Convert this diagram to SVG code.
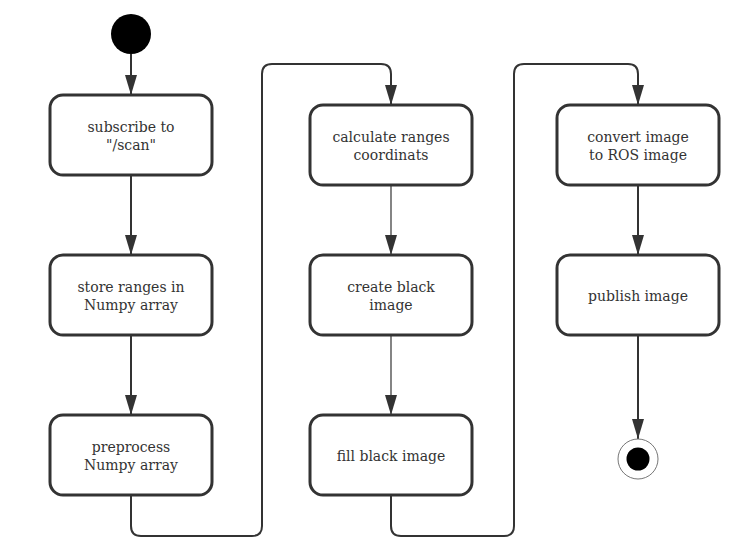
<svg xmlns="http://www.w3.org/2000/svg" width="755" height="558" viewBox="0 0 755 558">
<defs>
<marker id="arr" markerUnits="userSpaceOnUse" markerWidth="20" markerHeight="12" refX="20" refY="6" orient="auto">
<path d="M0,0 L20,6 L0,12 z" fill="#333"/>
</marker>
<style>
.box{fill:#fff;stroke:#333;stroke-width:3}
.lbl{font-family:"DejaVu Serif",serif;font-size:14px;fill:#333;text-anchor:middle}
.c{fill:none;stroke:#333;stroke-width:2}
.t{fill:none;stroke:#333;stroke-width:1.2}
</style>
</defs>
<rect width="755" height="558" fill="#fff"/>
<g id="connectors">
<path class="c" d="M131,54 V95" marker-end="url(#arr)"/>
<path class="c" d="M131,175 V255" marker-end="url(#arr)"/>
<path class="c" d="M131,335 V415" marker-end="url(#arr)"/>
<path class="c" d="M131,495 V526 Q131,536 141,536 H252 Q262,536 262,526 V74 Q262,64 272,64 H381 Q391,64 391,74 V105" marker-end="url(#arr)"/>
<path class="t" d="M391,185 V255" marker-end="url(#arr)"/>
<path class="t" d="M391,335 V415" marker-end="url(#arr)"/>
<path class="c" d="M391,495 V526 Q391,536 401,536 H504 Q514,536 514,526 V74 Q514,64 524,64 H628 Q638,64 638,74 V105" marker-end="url(#arr)"/>
<path class="c" d="M638,185 V255" marker-end="url(#arr)"/>
<path class="c" d="M638,335 V439" marker-end="url(#arr)"/>
</g>
<g id="start"><circle cx="131" cy="34" r="20" fill="#000"/></g>
<g id="n1"><rect class="box" x="50" y="95" width="162" height="80" rx="13"/><text class="lbl" x="131" y="132">subscribe to</text><text class="lbl" x="131" y="150">"/scan"</text></g>
<g id="n2"><rect class="box" x="50" y="255" width="162" height="80" rx="13"/><text class="lbl" x="131" y="292">store ranges in</text><text class="lbl" x="131" y="310">Numpy array</text></g>
<g id="n3"><rect class="box" x="50" y="415" width="162" height="80" rx="13"/><text class="lbl" x="131" y="452">preprocess</text><text class="lbl" x="131" y="470">Numpy array</text></g>
<g id="n4"><rect class="box" x="310" y="105" width="162" height="80" rx="13"/><text class="lbl" x="391" y="142">calculate ranges</text><text class="lbl" x="391" y="160">coordinats</text></g>
<g id="n5"><rect class="box" x="310" y="255" width="162" height="80" rx="13"/><text class="lbl" x="391" y="292">create black</text><text class="lbl" x="391" y="310">image</text></g>
<g id="n6"><rect class="box" x="310" y="415" width="162" height="80" rx="13"/><text class="lbl" x="391" y="461">fill black image</text></g>
<g id="n7"><rect class="box" x="557" y="105" width="162" height="80" rx="13"/><text class="lbl" x="638" y="142">convert image</text><text class="lbl" x="638" y="160">to ROS image</text></g>
<g id="n8"><rect class="box" x="557" y="255" width="162" height="80" rx="13"/><text class="lbl" x="638" y="301">publish image</text></g>
<g id="end"><circle cx="638" cy="459" r="20" fill="#fff" stroke="#777" stroke-width="1"/><circle cx="638" cy="459" r="11.5" fill="#000"/></g>
</svg>
